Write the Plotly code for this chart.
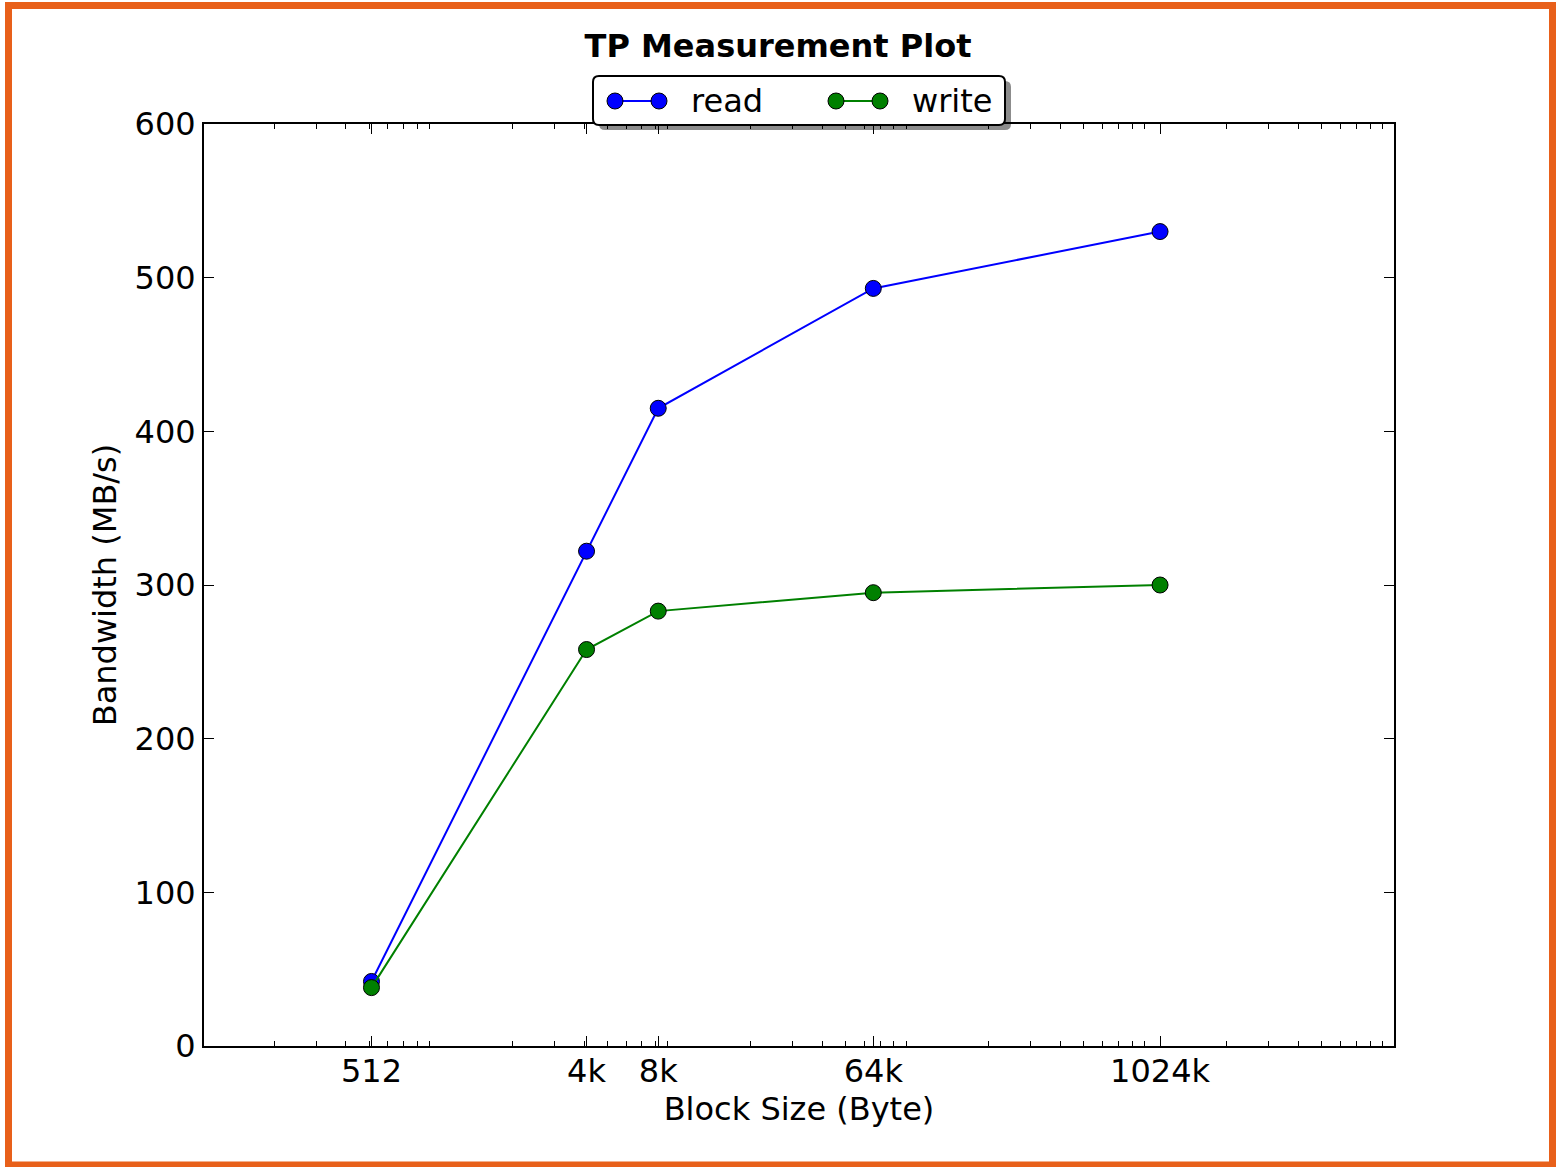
import plotly.graph_objects as go

# Throughput measurements per block size
block_labels = ["512", "4k", "8k", "64k", "1024k"]
block_sizes = [512, 4096, 8192, 65536, 1048576]
read_mbps = [42, 322, 415, 493, 530]
write_mbps = [38, 258, 283, 295, 300]

W, H = 1556, 1167
L, R, T, B = 204, 1394, 124, 1046  # plot area in pixels
FONT = "DejaVu Sans"


def px(x):
    return (x - L) / (R - L)


def py(y):
    return (B - y) / (B - T)


fig = go.Figure()
fig.add_trace(go.Scatter(
    x=block_sizes, y=read_mbps, name="read", mode="lines+markers",
    line=dict(color="#0000ff", width=2),
    marker=dict(size=16, color="#0000ff", line=dict(color="black", width=1)),
))
fig.add_trace(go.Scatter(
    x=block_sizes, y=write_mbps, name="write", mode="lines+markers",
    line=dict(color="#008000", width=2),
    marker=dict(size=16, color="#008000", line=dict(color="black", width=1)),
))

minor_vals = [k * 10 ** d for d in range(2, 7) for k in range(2, 10)]

fig.update_xaxes(
    type="log", range=[2.006, 7.003],
    tickvals=block_sizes, ticktext=block_labels,
    ticks="inside", ticklen=10, tickwidth=1, tickcolor="black",
    minor=dict(tickvals=minor_vals, ticks="inside", ticklen=5, tickwidth=1, tickcolor="black"),
    showline=True, linecolor="black", linewidth=2, mirror="ticks",
    showgrid=False, zeroline=False,
    tickfont=dict(family=FONT, size=32, color="black"),
    ticklabelstandoff=-4,
    title=dict(text="Block Size (Byte)", font=dict(family=FONT, size=32, color="black"), standoff=4),
)
fig.update_yaxes(
    range=[0, 600], tickvals=[0, 100, 200, 300, 400, 500, 600],
    ticks="inside", ticklen=10, tickwidth=1, tickcolor="black",
    showline=True, linecolor="black", linewidth=2, mirror="ticks",
    showgrid=False, zeroline=False,
    tickfont=dict(family=FONT, size=32, color="black"),
    ticklabelstandoff=0,
    title=dict(text="Bandwidth (MB/s)", font=dict(family=FONT, size=32, color="black"), standoff=8),
)

# Legend box with drop shadow (rounded corners)
def rounded_rect(x0, y0, x1, y1, r):
    rx, ry = r / (R - L), r / (B - T)
    a, b, c, d = px(x0), py(y0), px(x1), py(y1)
    return (f"M {a + rx},{b} L {c - rx},{b} Q {c},{b} {c},{b - ry} "
            f"L {c},{d + ry} Q {c},{d} {c - rx},{d} L {a + rx},{d} "
            f"Q {a},{d} {a},{d + ry} L {a},{b - ry} Q {a},{b} {a + rx},{b} Z")


shapes = [
    dict(type="path", xref="paper", yref="paper", layer="above",
         path=rounded_rect(599, 81, 1011, 130, 6),
         fillcolor="rgba(0,0,0,0.45)", line=dict(width=0)),
    dict(type="path", xref="paper", yref="paper", layer="above",
         path=rounded_rect(593, 76, 1005, 125, 6),
         fillcolor="white", line=dict(color="black", width=2)),
]
annotations = []
for (xa, xb, color, label, tx) in [(615, 659, "#0000ff", "read", 689),
                                   (836, 880, "#008000", "write", 910)]:
    shapes.append(dict(type="line", xref="paper", yref="paper", layer="above",
                       x0=px(xa), x1=px(xb), y0=py(101), y1=py(101),
                       line=dict(color=color, width=2)))
    for xc in (xa, xb):
        shapes.append(dict(type="circle", xref="paper", yref="paper", layer="above",
                           x0=px(xc - 8), x1=px(xc + 8), y0=py(109), y1=py(93),
                           fillcolor=color, line=dict(color="black", width=1)))
    annotations.append(dict(text=label, xref="paper", yref="paper", x=px(tx), y=py(101),
                            xanchor="left", yanchor="middle", showarrow=False,
                            font=dict(family=FONT, size=32, color="black")))

# Orange outer frame
shapes.append(dict(type="rect", xref="paper", yref="paper", layer="above",
                   x0=px(8.5), x1=px(1552.5), y0=py(5.5), y1=py(1165),
                   line=dict(color="#E8601A", width=7), fillcolor="rgba(0,0,0,0)"))

fig.update_layout(
    width=W, height=H,
    margin=dict(l=L, r=W - R, t=T, b=H - B),
    paper_bgcolor="white", plot_bgcolor="white",
    showlegend=False,
    title=dict(text="<b>TP Measurement Plot</b>", x=0.5, xref="container", xanchor="center",
               y=1 - 46 / H, yref="container", yanchor="middle",
               font=dict(family=FONT, size=32, color="black")),
    shapes=shapes, annotations=annotations,
)

fig.write_html("out.html")
